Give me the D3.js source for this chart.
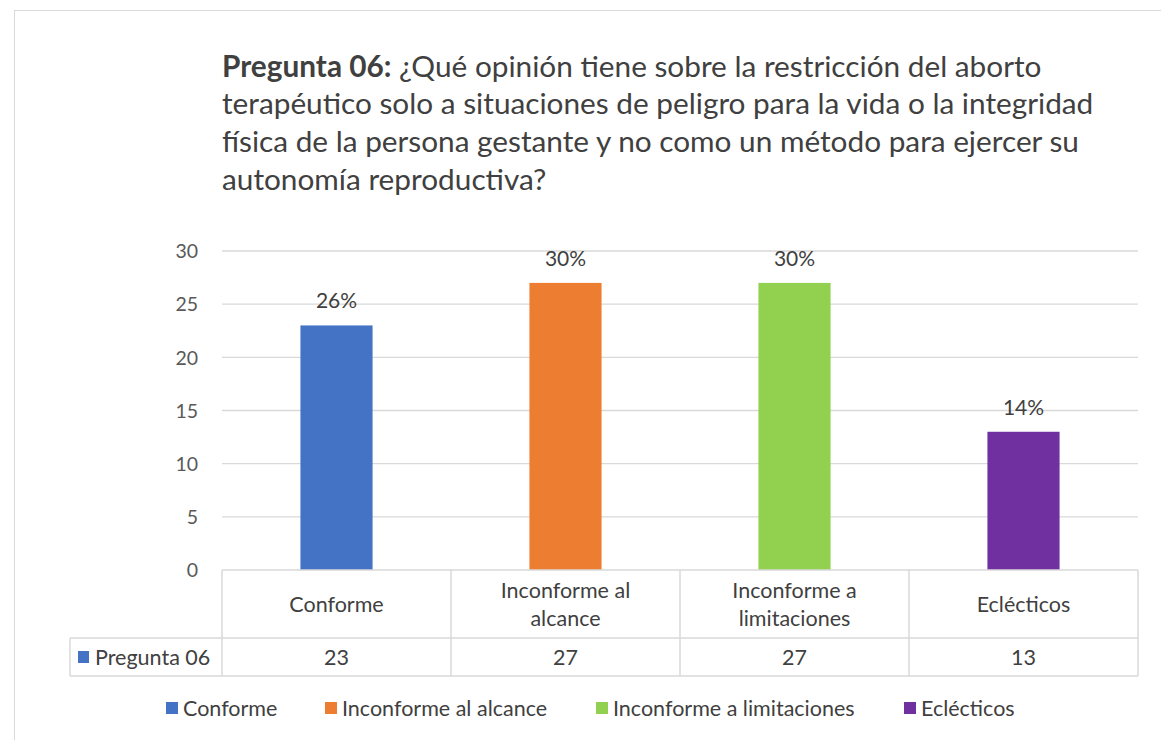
<!DOCTYPE html>
<html><head><meta charset="utf-8">
<script src="https://cdn.jsdelivr.net/npm/d3@7"></script>
<style>
html,body{margin:0;padding:0;background:#fff;}
svg{display:block;font-family:Lato,"Open Sans",sans-serif;}
</style></head>
<body>
<svg id="chart" width="1161" height="740"></svg>
<script>
const categories = ["Conforme", "Inconforme al alcance", "Inconforme a limitaciones", "Eclécticos"];
const headerLines = [["Conforme"], ["Inconforme al", "alcance"], ["Inconforme a", "limitaciones"], ["Eclécticos"]];
const values = [23, 27, 27, 13];
const percentLabels = ["26%", "30%", "30%", "14%"];
const yTicks = [0, 5, 10, 15, 20, 25, 30];
const seriesName = "Pregunta 06";
const colors = ["#4472C4", "#ED7D31", "#92D050", "#7030A0"];
const titleBold = "Pregunta 06:";
const titleLines = [
  " ¿Qué opinión tiene sobre la restricción del aborto",
  "terapéutico solo a situaciones de peligro para la vida o la integridad",
  "física de la persona gestante y no como un método para ejercer su",
  "autonomía reproductiva?"
];

(function () {
const svg = d3.select("#chart");
const textColor = "#404040";
const gridColor = "#d9d9d9";
const fsTable = 21.5, fsLabel = 21, fsTick = 19.5;

// outer border
svg.append("rect").attr("x", 14.5).attr("y", 10.5).attr("width", 1160).attr("height", 740)
  .attr("fill", "#fff").attr("stroke", "#d9d9d9").attr("stroke-width", 1);

// title
const title = svg.append("g");
const tY = [77, 114, 152, 190];
const tfs = 26;
titleLines.forEach((ln, i) => {
  const t = title.append("text").attr("x", 222).attr("y", tY[i]).attr("font-size", tfs)
    .attr("fill", textColor);
  if (i === 0) t.append("tspan").attr("font-weight", "bold").text(titleBold);
  t.append("tspan").text(ln);
});
const firstW = title.select("text").node().getComputedTextLength();
const scaleF = 820 / firstW;
title.selectAll("text").attr("font-size", tfs * scaleF);

const pL = 222, pR = 1138, pT = 251, pB = 570;
const x = d3.scaleBand().domain(categories).range([pL, pR]).padding(0);
const y = d3.scaleLinear().domain([0, 30]).range([pB, pT]);
const barW = x.bandwidth() * 0.315;

// gridlines
svg.append("g").selectAll("line").data(yTicks.filter(d => d > 0)).join("line")
  .attr("x1", pL).attr("x2", pR).attr("y1", d => y(d)).attr("y2", d => y(d))
  .attr("stroke", gridColor).attr("stroke-width", 1.3);

// y axis labels
const yAxis = d3.axisLeft(y).tickValues(yTicks).tickSize(0).tickPadding(0);
const ya = svg.append("g").attr("transform", "translate(198,0)").call(yAxis);
ya.select(".domain").remove();
ya.selectAll("text").attr("font-size", fsTick).attr("fill", "#595959").attr("font-family", "Lato, sans-serif").attr("dy", "0.35em");

// bars
svg.append("g").selectAll("rect").data(values).join("rect")
  .attr("x", (d, i) => x(categories[i]) + (x.bandwidth() - barW) / 2)
  .attr("width", barW)
  .attr("y", d => y(d)).attr("height", d => y(0) - y(d))
  .attr("fill", (d, i) => colors[i]);

// data labels
svg.append("g").selectAll("text").data(values).join("text")
  .attr("x", (d, i) => x(categories[i]) + x.bandwidth() / 2)
  .attr("y", d => y(d) - 17)
  .attr("text-anchor", "middle").attr("font-size", fsLabel).attr("fill", textColor)
  .text((d, i) => percentLabels[i]);

// data table
const rowTop = 570, rowMid = 638, rowBot = 676, tableLeft = 70;
const tg = svg.append("g").attr("stroke", gridColor).attr("stroke-width", 1.5);
tg.append("line").attr("x1", pL).attr("x2", pR).attr("y1", rowTop).attr("y2", rowTop);
tg.append("line").attr("x1", tableLeft).attr("x2", pR).attr("y1", rowMid).attr("y2", rowMid);
tg.append("line").attr("x1", tableLeft).attr("x2", pR).attr("y1", rowBot).attr("y2", rowBot);
tg.append("line").attr("x1", tableLeft).attr("x2", tableLeft).attr("y1", rowMid).attr("y2", rowBot);
const colEdges = categories.map(c => x(c)).concat([pR]);
tg.selectAll(".v").data(colEdges).join("line").attr("class", "v")
  .attr("x1", d => d).attr("x2", d => d).attr("y1", rowTop).attr("y2", rowBot);

// header texts
categories.forEach((c, i) => {
  const lines = headerLines[i];
  const cx = x(c) + x.bandwidth() / 2;
  const cy = (rowTop + rowMid) / 2;
  const lh = 28;
  lines.forEach((l, j) => {
    svg.append("text").attr("x", cx).attr("y", cy + (j - (lines.length - 1) / 2) * lh)
      .attr("dy", "0.35em").attr("text-anchor", "middle").attr("font-size", fsTable).attr("fill", textColor).text(l);
  });
  svg.append("text").attr("x", cx).attr("y", (rowMid + rowBot) / 2).attr("dy", "0.35em")
    .attr("text-anchor", "middle").attr("font-size", fsTable).attr("fill", textColor).text(values[i]);
});
svg.append("rect").attr("x", 78).attr("y", (rowMid + rowBot) / 2 - 6).attr("width", 11).attr("height", 12).attr("fill", colors[0]);
svg.append("text").attr("x", 95).attr("y", (rowMid + rowBot) / 2).attr("dy", "0.35em")
  .attr("font-size", fsTable).attr("fill", textColor).text(seriesName);

// legend
const legX = [166, 325, 596, 904];
const legY = 708;
categories.forEach((c, i) => {
  svg.append("rect").attr("x", legX[i]).attr("y", legY - 6).attr("width", 12).attr("height", 12).attr("fill", colors[i]);
  svg.append("text").attr("x", legX[i] + 17).attr("y", legY).attr("dy", "0.35em")
    .attr("font-size", fsTable).attr("fill", textColor).text(c);
});
})();
</script>
</body></html>
